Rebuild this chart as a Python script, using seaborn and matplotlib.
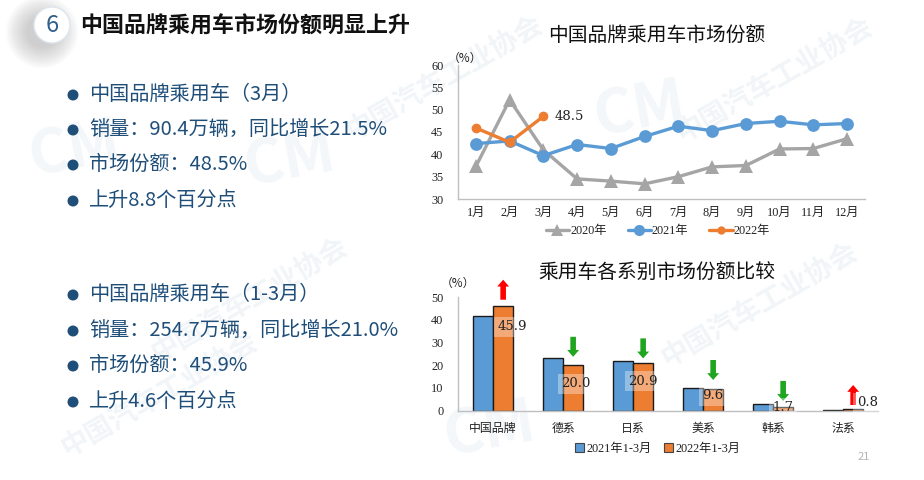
import matplotlib
matplotlib.use("Agg")
import matplotlib.pyplot as plt
from matplotlib.patches import Circle, FancyArrow, Rectangle
import pandas as pd
import seaborn as sns

W, H = 924, 480

# 折线图数据
months = ["1月", "2月", "3月", "4月", "5月", "6月", "7月", "8月", "9月", "10月", "11月", "12月"]
share_2020 = [37.3, 52.2, 41.0, 34.5, 34.0, 33.4, 35.0, 37.2, 37.5, 41.2, 41.3, 43.5]
share_2021 = [42.4, 43.0, 39.7, 42.2, 41.3, 44.0, 46.3, 45.3, 46.9, 47.4, 46.6, 46.9]
share_2022 = [45.9, 42.7, 48.5]

# 柱状图数据
brands = ["中国品牌", "德系", "日系", "美系", "韩系", "法系"]
q1_2021 = [41.5, 23.2, 21.8, 10.0, 2.8, 0.5]
q1_2022 = [45.9, 20.0, 20.9, 9.6, 1.7, 0.8]
arrow_up = [True, False, False, False, False, True]

# 左侧文字
bullets_top = ["中国品牌乘用车（3月）", "销量：90.4万辆，同比增长21.5%", "市场份额：48.5%", "上升8.8个百分点"]
bullets_bottom = ["中国品牌乘用车（1-3月）", "销量：254.7万辆，同比增长21.0%", "市场份额：45.9%", "上升4.6个百分点"]

sns.set_theme(style="white")
SANS = ["Noto Sans CJK SC", "DejaVu Sans"]
SERIF = ["Liberation Serif", "Noto Sans CJK SC"]
plt.rcParams["font.family"] = SANS

GRAY, BLUE, ORANGE = "#a5a5a5", "#5b9bd5", "#ed7d31"
TEXT_BLUE = "#1f4e79"
DARK = "#222222"

fig = plt.figure(figsize=(W / 100, H / 100), dpi=100, facecolor="white")

# 整页的像素坐标层
page = fig.add_axes([0, 0, 1, 1], zorder=0)
page.set_xlim(0, W)
page.set_ylim(H, 0)
page.axis("off")


def plot_axes(left, right, top, bottom):
    ax = fig.add_axes([left / W, 1 - bottom / H, (right - left) / W, (bottom - top) / H], zorder=2)
    ax.patch.set_alpha(0)
    return ax


# 水印放在最底层
for x, y in [(445, 78), (775, 80), (250, 300), (760, 305), (160, 395)]:
    page.text(x, y, "中国汽车工业协会", fontsize=20, color="#f1f5f8", rotation=30,
              ha="center", va="center", fontweight="bold", zorder=0)
for x, y in [(75, 150), (290, 160), (490, 430), (640, 110)]:
    page.text(x, y, "CM", fontsize=44, color="#f3f7fa", rotation=10, ha="center", va="center",
              fontweight="bold", style="italic", zorder=0)

# 标题和序号，阴影用多层淡圆叠出来
for r in range(36, 14, -2):
    page.add_patch(Circle((42, 32), r, color="#7a7a7a", alpha=0.035, lw=0, zorder=2))
page.add_patch(Circle((52, 25), 18, color="white", ec="#dde5ed", lw=1, zorder=3))
page.text(52, 25, "6", fontsize=17, color="#2f5f8a", ha="center", va="center", zorder=4)
page.text(80, 26, "中国品牌乘用车市场份额明显上升", fontsize=15.8, color="#111111",
          ha="left", va="center", fontweight="bold", zorder=4)

# 左侧项目符号
for items, ys in [(bullets_top, [95, 130, 165, 201]), (bullets_bottom, [295, 331, 366, 402])]:
    for item, y in zip(items, ys):
        page.add_patch(Circle((73, y), 5.5, color=TEXT_BLUE, lw=0, zorder=3))
        page.text(89, y - 1, item, fontsize=14.5, color=TEXT_BLUE, ha="left", va="center", zorder=4)

# 上方折线图
line_df = pd.concat([
    pd.DataFrame({"月份": months, "份额": share_2020, "年份": "2020年"}),
    pd.DataFrame({"月份": months, "份额": share_2021, "年份": "2021年"}),
    pd.DataFrame({"月份": months[:3], "份额": share_2022, "年份": "2022年"}),
])
line_df["pos"] = line_df["月份"].map(months.index)

ax1 = plot_axes(458, 865, 65, 199)
sns.lineplot(data=line_df, x="pos", y="份额", hue="年份", style="年份", sort=False, ax=ax1,
             palette=[GRAY, BLUE, ORANGE], dashes=False, markers=["^", "o", "o"],
             hue_order=["2020年", "2021年", "2022年"], style_order=["2020年", "2021年", "2022年"],
             linewidth=2.4, markeredgewidth=0, errorbar=None, clip_on=False)
for line, ms in zip(ax1.get_lines(), [10, 9.2, 7]):
    line.set_markersize(ms)
ax1.set_xlim(-0.53, 11.53)
ax1.set_ylim(30, 60)
ax1.set_yticks(range(30, 61, 5))
ax1.set_xticks(range(12))
ax1.set_xticklabels(months)
ax1.set_xlabel("")
ax1.set_ylabel("")
ax1.tick_params(axis="y", length=0, labelsize=8.8, colors=DARK, pad=10.5)
ax1.tick_params(axis="x", length=0, labelsize=8.8, colors=DARK, pad=6)
for lab in ax1.get_yticklabels() + ax1.get_xticklabels():
    lab.set_family(SERIF)
sns.despine(ax=ax1)
for s in ["left", "bottom"]:
    ax1.spines[s].set_color("#bfbfbf")
    ax1.spines[s].set_linewidth(1)
ax1.get_legend().remove()
ax1.annotate("48.5", (2, share_2022[2]), xytext=(8, 0), textcoords="offset points",
             fontsize=9.5, family="DejaVu Serif", color=DARK, va="center")

page.text(657, 35, "中国品牌乘用车市场份额", fontsize=14.2, color="#111111", ha="center", va="center",
          fontweight="medium", zorder=4)
page.text(465, 58, "（%）", fontsize=8.5, color=DARK, ha="center", va="center", zorder=4)

handles, labels = ax1.get_legend_handles_labels()
leg1 = fig.legend(handles, labels, loc="center", bbox_to_anchor=(658 / W, 1 - 231 / H), ncol=3, frameon=False,
                  prop={"family": SERIF, "size": 8.8}, handlelength=1.9, columnspacing=1.7,
                  handletextpad=0.1, labelcolor=DARK)
for h, ms in zip(leg1.legend_handles, [8, 8, 6]):
    h.set_markersize(ms)

# 下方柱状图
bar_df = pd.DataFrame({
    "品牌": brands * 2,
    "份额": q1_2021 + q1_2022,
    "时期": ["2021年1-3月"] * 6 + ["2022年1-3月"] * 6,
})
ax2 = plot_axes(458, 878, 297, 410.7)
sns.barplot(data=bar_df, x="品牌", y="份额", hue="时期", palette=[BLUE, ORANGE], saturation=1,
            width=0.58, edgecolor="#1b1b1b", linewidth=1, ax=ax2, errorbar=None, legend=True)
ax2.set_xlim(-0.5, 5.5)
ax2.set_ylim(0, 50)
ax2.set_yticks(range(0, 51, 10))
ax2.set_xlabel("")
ax2.set_ylabel("")
ax2.tick_params(axis="y", length=0, labelsize=8.8, colors=DARK, pad=10.5)
ax2.tick_params(axis="x", length=0, labelsize=8.6, colors=DARK, pad=8)
for lab in ax2.get_yticklabels():
    lab.set_family(SERIF)
sns.despine(ax=ax2)
for s in ["left", "bottom"]:
    ax2.spines[s].set_color("#bfbfbf")
    ax2.spines[s].set_linewidth(1)
ax2.get_legend().remove()

# 2022 数值标签（带半透明底）和涨跌箭头
label_dx = [0.13, 0.04, 0, 0, 0, 0.2]
label_dy = [-9, -8.2, -7.9, -3.1, -0.5, 2.6]
arrow_gap = [2.9, 3.7, 2.1, 3.9, 2.6, 1.7]
ARROW_LEN = 8.8
for container in ax2.containers[1:]:
    for i, (bar, val) in enumerate(zip(container, q1_2022)):
        cx = bar.get_x() + bar.get_width() / 2
        ax2.text(cx + label_dx[i], val + label_dy[i], f"{val:.1f}", fontsize=9.5, family="DejaVu Serif",
                 color=DARK, ha="center", va="center", clip_on=False,
                 bbox=dict(boxstyle="square,pad=0.25", fc="white", ec="none", alpha=0.35), zorder=5)
        color = "#ff0000" if arrow_up[i] else "#1fa51f"
        if arrow_up[i]:
            start, d = val + arrow_gap[i], ARROW_LEN
        else:
            start, d = val + arrow_gap[i] + ARROW_LEN, -ARROW_LEN
        ax2.add_patch(FancyArrow(cx, start, 0, d, width=0.08, head_width=0.17, head_length=3,
                                 length_includes_head=True, color=color, lw=0, clip_on=False, zorder=4))

page.text(657, 273, "乘用车各系别市场份额比较", fontsize=14.2, color="#111111", ha="center", va="center",
          fontweight="medium", zorder=4)
page.text(458, 283, "（%）", fontsize=8.5, color=DARK, ha="center", va="center", zorder=4)

handles2 = [Rectangle((0, 0), 1, 1, fc=BLUE, ec="#444444", lw=0.8), Rectangle((0, 0), 1, 1, fc=ORANGE, ec="#444444", lw=0.8)]
fig.legend(handles2, ["2021年1-3月", "2022年1-3月"], loc="center", bbox_to_anchor=(658 / W, 1 - 449 / H), ncol=2,
           frameon=False, prop={"family": SERIF, "size": 8.8}, handlelength=0.7, handleheight=0.7,
           handletextpad=0.25, columnspacing=1.0, labelcolor=DARK)

page.text(864, 457, "21", fontsize=8, color="#b5b5b5", ha="center", va="center", zorder=4)

fig.savefig("out.png", dpi=100)
